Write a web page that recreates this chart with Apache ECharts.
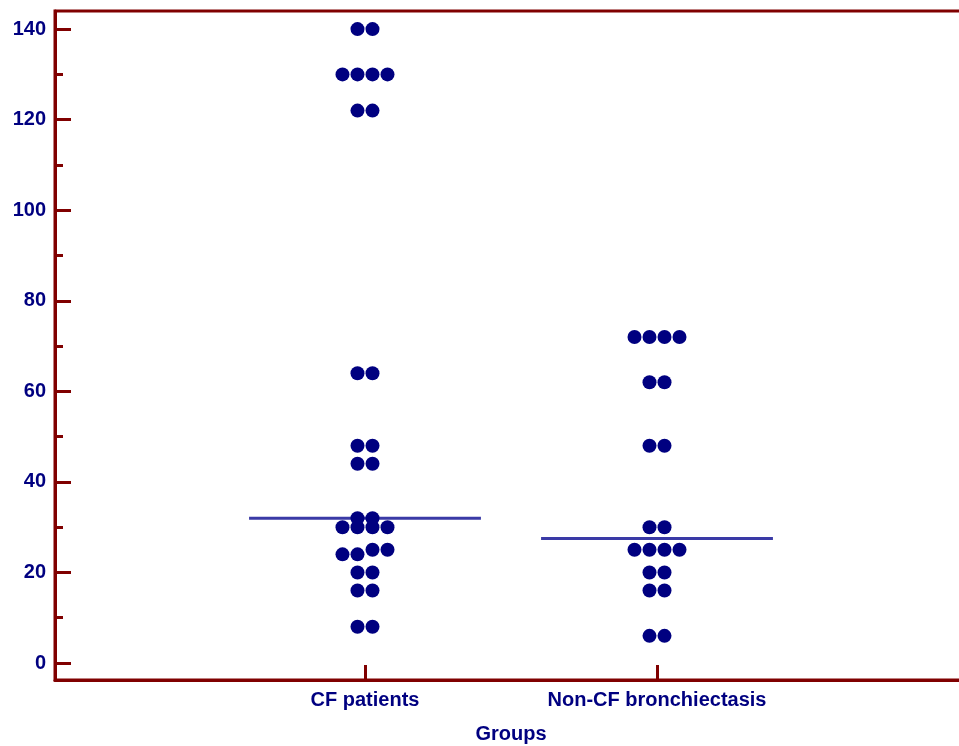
<!DOCTYPE html>
<html>
<head>
<meta charset="utf-8">
<script src="https://cdn.jsdelivr.net/npm/echarts@6/dist/echarts.min.js"></script>
<style>html,body{margin:0;padding:0;background:#fff}#c{width:959px;height:746px}</style>
</head>
<body>
<div id="c"></div>
<script>
var categories = ['CF patients', 'Non-CF bronchiectasis'];
var cfValues = [140,140,130,130,130,130,122,122,64,64,48,48,44,44,32,32,30,30,30,30,25,25,24,24,20,20,16,16,8,8];
var nonCfValues = [72,72,72,72,62,62,48,48,30,30,25,25,25,25,20,20,16,16,6,6];
var yTickLabels = [0,20,40,60,80,100,120,140];
var yMinorTicks = [10,30,50,70,90,110,130];
var axisName = 'Groups';

var AXIS = '#800000', DOT = '#000080', MED = '#3a3aa6', TXT = '#000080';
var DOT_SIZE = 14, DOT_STEP = 15, HALF_W = 0.397;
var FONT = 'Liberation Sans, Arial, sans-serif';

function median(arr) {
  var s = arr.slice().sort(function(a,b){return a-b;});
  var n = s.length;
  return n % 2 ? s[(n-1)/2] : (s[n/2-1] + s[n/2]) / 2;
}
// beeswarm-like rows: values within 1.5 units share a row
function swarm(vals, gx) {
  var s = vals.slice().sort(function(a,b){return a-b;});
  var rows = [], cur = [];
  s.forEach(function(v){
    if (cur.length && v - cur[0] > 1.5) { rows.push(cur); cur = []; }
    cur.push(v);
  });
  if (cur.length) rows.push(cur);
  var out = [];
  rows.forEach(function(r){
    var n = r.length;
    r.forEach(function(v,k){
      out.push({value:[gx, v], symbolOffset:[(k-(n-1)/2)*DOT_STEP, 0]});
    });
  });
  return out;
}
var groups = [cfValues, nonCfValues];
var series = [];
groups.forEach(function(vals, i){
  var gx = i + 1;
  var m = median(vals);
  series.push({type:'line', data:[[gx-HALF_W, m],[gx+HALF_W, m]], symbol:'none',
    lineStyle:{color:MED, width:3}, silent:true, z:2});
  series.push({type:'scatter', data: swarm(vals, gx), symbolSize: DOT_SIZE,
    itemStyle:{color:DOT, opacity:1}, silent:true, z:3});
});

var chart = echarts.init(document.getElementById('c'));
chart.setOption({
  animation:false,
  grid:{left:55, right:-8, top:11, bottom:66, show:true, borderColor:AXIS, borderWidth:3, outerBoundsMode:'none'},
  xAxis:{type:'value', min:-0.0616, max:3.0616,
    name: axisName, nameLocation:'middle', nameGap:44,
    nameTextStyle:{color:TXT, fontSize:20, fontWeight:'bold', fontFamily:FONT},
    axisLine:{show:true, onZero:false, lineStyle:{color:AXIS, width:3}},
    axisTick:{show:true, inside:true, length:15, customValues:[1,2], lineStyle:{color:AXIS, width:3}},
    axisLabel:{customValues:[1,2], margin:10, color:TXT, fontSize:20, fontWeight:'bold', fontFamily:FONT,
      formatter:function(v){return categories[Math.round(v)-1] || '';}},
    splitLine:{show:false}},
  yAxis:[{type:'value', min:-3.75, max:144,
    axisLine:{show:true, onZero:false, lineStyle:{color:AXIS, width:3}},
    axisTick:{show:true, inside:true, length:16, customValues:yTickLabels, lineStyle:{color:AXIS, width:3}},
    axisLabel:{customValues:yTickLabels, margin:9, color:TXT, fontSize:20, fontWeight:'bold', fontFamily:FONT},
    splitLine:{show:false}},
   {type:'value', min:-3.75, max:144, position:'left', offset:0,
    axisLine:{show:false, onZero:false},
    axisTick:{show:true, inside:true, length:8, customValues:yMinorTicks, lineStyle:{color:AXIS, width:3}},
    axisLabel:{show:false}, splitLine:{show:false}}],
  series: series
});
</script>
</body>
</html>
